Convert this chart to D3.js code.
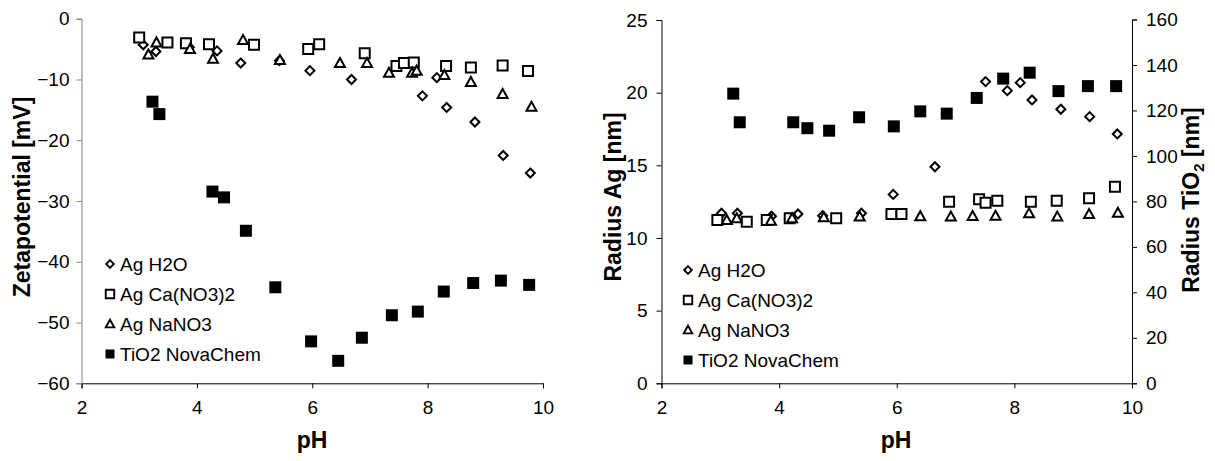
<!DOCTYPE html>
<html lang="en">
<head>
    <meta charset="utf-8">
    <title>zeta and radius vs pH</title>
    <script src="https://cdn.jsdelivr.net/npm/d3@7"></script>
    <style>
        body { margin: 0; background: #fff; }
        svg { display: block; font-family: Arial, "Liberation Sans", sans-serif; }
        .tick text { font-size: 19px; fill: #000; }
        .title { font-size: 23px; font-weight: bold; }
        .legend text { font-size: 19px; }
    </style>
</head>
<body>
<script>
    // left chart: zeta potential
    var zetaH2O_pH = [3.07, 3.29, 3.87, 4.35, 4.76, 5.43, 5.96, 6.68, 7.91, 8.16, 8.33, 8.82, 9.31, 9.78];
    var zetaH2O = [-4.3, -5.4, -4.7, -5.3, -7.3, -6.9, -8.55, -10.0, -12.7, -9.7, -14.6, -17.0, -22.5, -25.4];
    var zetaCa_pH = [3.0, 3.49, 3.81, 4.21, 4.99, 5.93, 6.12, 6.91, 7.46, 7.59, 7.76, 8.32, 8.75, 9.3, 9.74];
    var zetaCa = [-3.1, -3.9, -4.05, -4.2, -4.3, -5.0, -4.2, -5.7, -7.8, -7.3, -7.2, -7.8, -8.05, -7.7, -8.6];
    var zetaNa_pH = [3.16, 3.3, 3.88, 4.28, 4.8, 5.44, 6.48, 6.95, 7.33, 7.73, 7.81, 8.29, 8.75, 9.3, 9.8];
    var zetaNa = [-5.9, -3.9, -5.0, -6.6, -3.5, -6.8, -7.3, -7.3, -8.9, -8.9, -8.55, -9.26, -10.4, -12.4, -14.5];
    var zetaTi_pH = [3.23, 3.35, 4.27, 4.47, 4.85, 5.36, 5.98, 6.45, 6.86, 7.38, 7.83, 8.28, 8.79, 9.27, 9.76];
    var zetaTi = [-13.65, -15.7, -28.45, -29.4, -34.9, -44.2, -53.1, -56.3, -52.5, -48.8, -48.2, -44.9, -43.5, -43.1, -43.8];

    // right chart: radius
    var radH2O_pH = [3.02, 3.29, 3.87, 4.32, 4.74, 5.40, 5.94, 6.65, 7.51, 7.88, 8.10, 8.30, 8.79, 9.28, 9.75];
    var radH2O = [11.7, 11.7, 11.5, 11.65, 11.53, 11.7, 13.0, 14.9, 20.76, 20.14, 20.69, 19.5, 18.86, 18.35, 17.16];
    var radCa_pH = [2.95, 3.45, 3.79, 4.18, 4.97, 5.91, 6.08, 6.89, 7.4, 7.51, 7.71, 8.28, 8.72, 9.27, 9.71];
    var radCa = [11.24, 11.12, 11.24, 11.36, 11.36, 11.65, 11.65, 12.5, 12.66, 12.43, 12.57, 12.5, 12.57, 12.73, 13.53];
    var radNa_pH = [3.11, 3.28, 3.86, 4.22, 4.76, 5.37, 6.4, 6.92, 7.29, 7.68, 8.25, 8.73, 9.27, 9.76];
    var radNa = [11.24, 11.36, 11.19, 11.36, 11.42, 11.47, 11.5, 11.47, 11.51, 11.53, 11.7, 11.47, 11.65, 11.74];
    var radTi_pH = [3.22, 3.33, 4.24, 4.48, 4.85, 5.36, 5.95, 6.4, 6.85, 7.36, 7.81, 8.26, 8.75, 9.25, 9.73];
    var radTi = [127.4, 114.8, 114.8, 112.2, 111.1, 117.0, 113.0, 119.6, 118.6, 125.5, 134.0, 136.6, 128.5, 130.7, 130.7];

    var legendNames = ['Ag H2O', 'Ag Ca(NO3)2', 'Ag NaNO3', 'TiO2 NovaChem'];
    var markers = ['diamond', 'square', 'triangle', 'filled'];
    var pHTicks = [2, 4, 6, 8, 10];

    var svg = d3.select('body').append('svg')
        .attr('width', 1215)
        .attr('height', 461);

    function zip(xs, ys) {
        return xs.map((x, i) => [x, ys[i]]);
    }

    // marker shapes
    function markerPath(type) {
        if (type === 'diamond') return 'M0,-4.5L4.5,0L0,4.5L-4.5,0Z';
        if (type === 'square') return 'M-5,-5H5V5H-5Z';
        if (type === 'triangle') return 'M0,-5L5,4L-5,4Z';
        return 'M-6,-6H6V6H-6Z';
    }

    function drawPoints(g, pts, x, y, type) {
        g.append('g').selectAll('path')
            .data(pts)
            .enter().append('path')
            .attr('transform', d => `translate(${x(d[0])},${y(d[1])})`)
            .attr('d', markerPath(type))
            .attr('fill', type === 'filled' ? '#000' : '#fff')
            .attr('stroke', '#000')
            .attr('stroke-width', type === 'filled' ? 0 : 2)
            .attr('stroke-linejoin', 'miter');
    }

    function drawLegend(lx, ly) {
        var lg = svg.append('g').attr('class', 'legend');
        legendNames.forEach((name, i) => {
            var yy = ly + i * 30;
            lg.append('path')
                .attr('transform', `translate(${lx},${yy})` + (markers[i] === 'filled' ? ' scale(0.75)' : ' scale(0.85)'))
                .attr('d', markerPath(markers[i]))
                .attr('fill', markers[i] === 'filled' ? '#000' : '#fff')
                .attr('stroke', '#000')
                .attr('stroke-width', markers[i] === 'filled' ? 0 : 2.2);
            lg.append('text')
                .attr('x', lx + 10)
                .attr('y', yy)
                .attr('dy', '0.35em')
                .text(name);
        });
    }

    // ---------- left chart ----------
    var x1 = d3.scaleLinear().domain([2, 10]).range([81.5, 543]);
    var y1 = d3.scaleLinear().domain([-60, 0]).range([383.3, 18.7]);

    var gx1 = svg.append('g')
        .attr('transform', 'translate(0,383.3)')
        .call(d3.axisBottom(x1).tickValues(pHTicks).tickSizeOuter(0).tickSize(5).tickPadding(12));
    gx1.select('.domain').attr('stroke', '#000');

    var gy1 = svg.append('g')
        .attr('transform', 'translate(81.5,0)')
        .call(d3.axisLeft(y1).ticks(6).tickSizeOuter(0).tickSize(5).tickPadding(7));
    gy1.select('.domain').attr('stroke', '#808080');
    gy1.selectAll('.tick line').attr('stroke', '#808080');

    var p1 = svg.append('g');
    drawPoints(p1, zip(zetaH2O_pH, zetaH2O), x1, y1, 'diamond');
    drawPoints(p1, zip(zetaCa_pH, zetaCa), x1, y1, 'square');
    drawPoints(p1, zip(zetaNa_pH, zetaNa), x1, y1, 'triangle');
    drawPoints(p1, zip(zetaTi_pH, zetaTi), x1, y1, 'filled');

    svg.append('text').attr('class', 'title')
        .attr('x', 312).attr('y', 448)
        .attr('text-anchor', 'middle').text('pH');
    svg.append('text').attr('class', 'title')
        .attr('transform', 'translate(30,197) rotate(-90)')
        .attr('text-anchor', 'middle').text('Zetapotential [mV]');

    drawLegend(110, 264);

    // ---------- right chart ----------
    var x2 = d3.scaleLinear().domain([2, 10]).range([661.5, 1132]);
    var y2 = d3.scaleLinear().domain([0, 25]).range([383.3, 20]);
    var y3 = d3.scaleLinear().domain([0, 160]).range([383.3, 19.5]);

    svg.append('g')
        .attr('transform', 'translate(0,383.3)')
        .call(d3.axisBottom(x2).tickValues(pHTicks).tickSizeOuter(0).tickSize(5).tickPadding(12));
    svg.append('g')
        .attr('transform', 'translate(661.5,0)')
        .call(d3.axisLeft(y2).ticks(5).tickSizeOuter(0).tickSize(5).tickPadding(9));
    svg.append('g')
        .attr('transform', 'translate(1132,0)')
        .call(d3.axisRight(y3).tickValues(d3.range(0, 161, 20)).tickSizeOuter(0).tickSize(5).tickPadding(9));

    var p2 = svg.append('g');
    drawPoints(p2, zip(radH2O_pH, radH2O), x2, y2, 'diamond');
    drawPoints(p2, zip(radCa_pH, radCa), x2, y2, 'square');
    drawPoints(p2, zip(radNa_pH, radNa), x2, y2, 'triangle');
    drawPoints(p2, zip(radTi_pH, radTi), x2, y3, 'filled');

    svg.append('text').attr('class', 'title')
        .attr('x', 896).attr('y', 448)
        .attr('text-anchor', 'middle').text('pH');
    svg.append('text').attr('class', 'title')
        .attr('transform', 'translate(621,197) rotate(-90)')
        .attr('text-anchor', 'middle').text('Radius Ag [nm]');
    var t3 = svg.append('text').attr('class', 'title')
        .attr('transform', 'translate(1199,200) rotate(-90)')
        .attr('text-anchor', 'middle');
    t3.append('tspan').text('Radius TiO');
    t3.append('tspan').attr('font-size', '15px').attr('dy', 5).text('2');
    t3.append('tspan').attr('dy', -5).text(' [nm]');

    drawLegend(688, 270);
</script>
</body>
</html>
